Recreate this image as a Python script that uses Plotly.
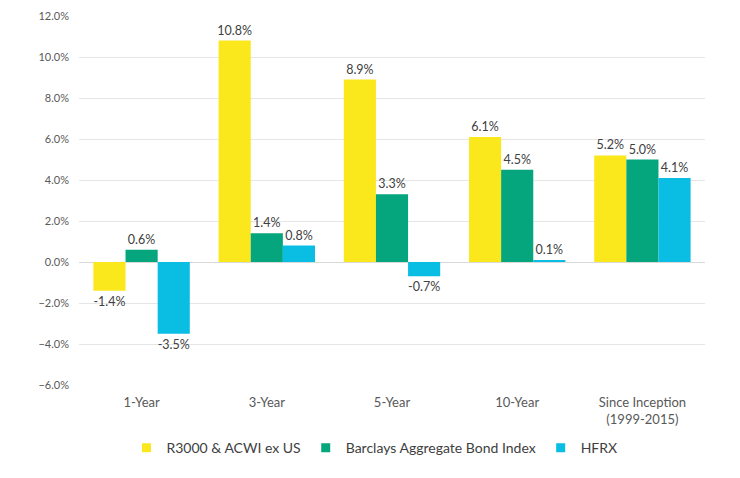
import plotly.graph_objects as go

categories = ["1-Year", "3-Year", "5-Year", "10-Year", "Since Inception<br>(1999-2015)"]
r3000 = [-1.4, 10.8, 8.9, 6.1, 5.2]
barclays = [0.6, 1.4, 3.3, 4.5, 5.0]
hfrx = [-3.5, 0.8, -0.7, 0.1, 4.1]
series_names = ["R3000 & ACWI ex US", "Barclays Aggregate Bond Index", "HFRX"]
colors = ["#FAE81C", "#05A67E", "#0ABDE3"]

fig = go.Figure()
for name, vals, col in zip(series_names, [r3000, barclays, hfrx], colors):
    fig.add_trace(go.Bar(
        x=categories, y=vals, name=name, marker_color=col,
        marker_line_width=0, showlegend=False,
        text=[f"{v:.1f}%" for v in vals], textposition="outside",
        constraintext="none",
        textfont=dict(size=12.5, color="#404040"), cliponaxis=False,
    ))
# legend entries with small square markers
for name, col in zip(series_names, colors):
    fig.add_trace(go.Scatter(
        x=[None], y=[None], mode="markers", name=name,
        marker=dict(symbol="square", size=9, color=col),
    ))

fig.update_layout(
    barmode="group", bargap=0.23, bargroupgap=0,
    width=740, height=478,
    margin=dict(l=71, r=43, t=8, b=101, autoexpand=False),
    paper_bgcolor="white", plot_bgcolor="white",
    font=dict(family="Lato, Open Sans, sans-serif", size=11, color="#595959"),
    legend=dict(orientation="h", x=0.472, xanchor="center", y=-0.171, yanchor="middle",
                font=dict(size=14, color="#404040"), traceorder="normal",
                itemwidth=30, tracegroupgap=0),
    showlegend=True,
)
fig.update_yaxes(range=[-6, 12], dtick=2, tickformat=".1f", ticksuffix="%",
                 showgrid=True, gridcolor="#E6E6E6", gridwidth=1,
                 zeroline=True, zerolinecolor="#D9D9D9", zerolinewidth=1,
                 tickfont=dict(size=11, color="#595959"), ticks="", showline=False,
                 automargin=False, ticklabelstandoff=9)
fig.update_xaxes(showline=False, ticks="", tickfont=dict(size=13, color="#595959"),
                 automargin=False, ticklabelstandoff=8)

fig.write_html("out.html")
